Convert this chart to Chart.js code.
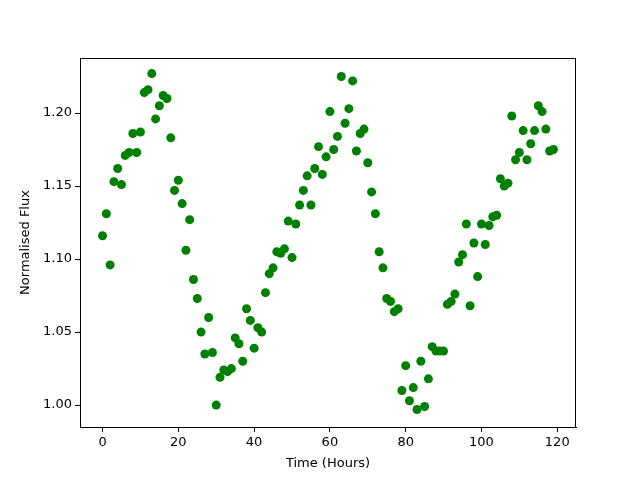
<!DOCTYPE html>
<html><head><meta charset="utf-8">
<script src="https://cdn.jsdelivr.net/npm/chart.js@4/dist/chart.umd.min.js"></script>
<style>html,body{margin:0;padding:0;background:#fff}#wrap{width:640px;height:480px}</style>
</head><body><div id="wrap"><canvas id="c" width="640" height="480"></canvas></div>
<script>
const hours = [];
for (let i = 0; i < 120; i++) hours.push(i);
const flux = [
1.116,1.131,1.096,1.153,1.162,1.151,1.171,1.173,1.186,1.173,
1.187,1.214,1.216,1.227,1.196,1.205,1.212,1.210,1.183,1.147,
1.154,1.138,1.106,1.127,1.086,1.073,1.050,1.035,1.060,1.036,
1.000,1.019,1.024,1.023,1.025,1.046,1.042,1.030,1.066,1.058,
1.039,1.053,1.050,1.077,1.090,1.094,1.105,1.104,1.107,1.126,
1.101,1.124,1.137,1.147,1.157,1.137,1.162,1.177,1.158,1.170,
1.201,1.175,1.184,1.225,1.193,1.203,1.222,1.174,1.186,1.189,
1.166,1.146,1.131,1.105,1.094,1.073,1.071,1.064,1.066,1.010,
1.027,1.003,1.012,0.997,1.030,0.999,1.018,1.040,1.037,1.037,
1.037,1.069,1.071,1.076,1.098,1.103,1.124,1.068,1.111,1.088,
1.124,1.110,1.123,1.129,1.130,1.155,1.150,1.152,1.198,1.168,
1.173,1.188,1.168,1.179,1.188,1.205,1.201,1.189,1.174,1.175
];
const xTicks = [0,20,40,60,80,100,120];
const yTicks = [1.00,1.05,1.10,1.15,1.20];

const points = hours.map((h,i)=>({x:h,y:flux[i]}));
const font = {family:'"DejaVu Sans", sans-serif', size:13};

const frame = {
  id:'frame',
  afterDraw(chart){
    const a = chart.chartArea, ctx = chart.ctx;
    ctx.save();
    ctx.strokeStyle = '#000'; ctx.lineWidth = 1;
    ctx.strokeRect(Math.round(a.left)+0.5, Math.round(a.top)+0.5, Math.round(a.right-a.left)-1, Math.round(a.bottom-a.top));
    ctx.restore();
  }
};

new Chart(document.getElementById('c'), {
  type:'scatter',
  data:{datasets:[{data:points, backgroundColor:'#008000', borderColor:'#008000', pointRadius:4.5, pointHoverRadius:4.5, borderWidth:0}]},
  options:{
    responsive:false, animation:false, devicePixelRatio:1,
    layout:{padding:{top:58,right:64,left:0,bottom:0}},
    plugins:{legend:{display:false}, tooltip:{enabled:false}},
    scales:{
      x:{type:'linear', min:-5.95, max:124.95,
        afterBuildTicks(s){ s.ticks = xTicks.map(v=>({value:v})); },
        afterFit(s){ s.height = 53; },
        grid:{drawOnChartArea:false, drawTicks:true, tickLength:5, tickColor:'#000'},
        border:{display:true, color:'#000'},
        ticks:{color:'#000', font:font, padding:3, maxRotation:0, callback:(v)=>String(v)},
        title:{display:true, text:'Time (Hours)', color:'#000', font:font, padding:{top:0,bottom:9}}
      },
      y:{type:'linear', min:0.985, max:1.2377,
        afterBuildTicks(s){ s.ticks = yTicks.map(v=>({value:v})); },
        afterFit(s){ s.width = 80; },
        grid:{drawOnChartArea:false, drawTicks:true, tickLength:5, tickColor:'#000'},
        border:{display:true, color:'#000'},
        ticks:{color:'#000', font:font, padding:3, callback:(v)=>Number(v).toFixed(2)},
        title:{display:true, text:'Normalised Flux', color:'#000', font:font, padding:{top:18,bottom:0}}
      }
    }
  },
  plugins:[frame]
});
</script></body></html>
